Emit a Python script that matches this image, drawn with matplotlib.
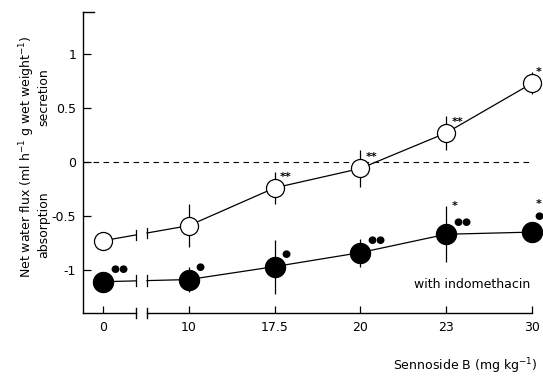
import matplotlib
matplotlib.use("Agg")
import matplotlib.pyplot as plt
import numpy as np

# doses of sennoside B (mg/kg), equally spaced on the axis
doses = ['0', '10', '17.5', '20', '23', '30']
control = [-0.73, -0.59, -0.24, -0.06, 0.27, 0.73]
control_err = [0.0, 0.20, 0.15, 0.17, 0.16, 0.10]
indo = [-1.11, -1.09, -0.97, -0.84, -0.67, -0.65]
indo_err = [0.0, 0.12, 0.25, 0.13, 0.26, 0.09]
# significance marks next to each point
control_marks = ['', '', '**', '**', '**', '*']
indo_stars = ['', '', '', '', '*', '*']
indo_dots = ['●●', '●', '●', '●●', '●●', '●']
yticks = [-1, -0.5, 0, 0.5, 1]
yticklabels = ['-1', '-0.5', '0', '0.5', '1']

plt.rcParams['font.family'] = ['DejaVu Sans']
fig = plt.figure(figsize=(5.43, 3.78), dpi=100)
ax = fig.add_axes([0.1529, 0.172, 0.8269, 0.796])
x = np.arange(len(doses))
ax.set_xlim(-0.233, 5.0)
ax.set_ylim(-1.40, 1.39)

brk_l, brk_r = 0.385, 0.513   # axis break between 0 and 10
lw = 0.9


def draw_series(vals, errs, face, ms):
    y0 = np.interp(brk_l, [x[0], x[1]], [vals[0], vals[1]])
    y1 = np.interp(brk_r, [x[0], x[1]], [vals[0], vals[1]])
    ax.plot([x[0], brk_l], [vals[0], y0], color='k', lw=lw, zorder=2)
    ax.plot([brk_r, x[1]], [y1, vals[1]], color='k', lw=lw, zorder=2)
    for bx, by in ((brk_l, y0), (brk_r, y1)):
        ax.plot([bx, bx], [by - 0.05, by + 0.05], color='k', lw=lw, zorder=2)
    ax.plot(x[1:], vals[1:], color='k', lw=lw, zorder=2)
    ax.errorbar(x, vals, yerr=errs, fmt='none', ecolor='k', elinewidth=lw,
                capsize=0, zorder=2, clip_on=False)
    ax.plot(x, vals, 'o', ms=ms, mfc=face, mec='k', mew=0.9, ls='none',
            zorder=3, clip_on=False)


draw_series(control, control_err, 'white', 13)
draw_series(indo, indo_err, 'black', 14.5)

last = len(doses) - 1
for i in range(len(doses)):
    dx = 3 if i == last else 4
    if control_marks[i]:
        ax.annotate(control_marks[i], (x[i], control[i]), xytext=(dx, 8),
                    textcoords='offset points', fontsize=8, weight='bold',
                    ha='left', va='center', annotation_clip=False)
    if indo_stars[i]:
        ax.annotate(indo_stars[i], (x[i], indo[i]), xytext=(dx, 20),
                    textcoords='offset points', fontsize=8, weight='bold',
                    ha='left', va='center', annotation_clip=False)
    dot_off = (1.5, 11.5) if i == last else (dx + 1, 9)
    ax.annotate(indo_dots[i], (x[i], indo[i]), xytext=dot_off,
                textcoords='offset points', fontsize=7.5,
                ha='left', va='center', annotation_clip=False)

ax.axhline(0, color='k', lw=0.8, ls=(0, (5, 4)), zorder=1)

# spines and axis break on the bottom axis
ax.spines['top'].set_visible(False)
ax.spines['right'].set_visible(False)
ax.spines['bottom'].set_visible(False)
ax.spines['left'].set_linewidth(1.0)
ybot = -1.40
ax.plot([-0.233, brk_l], [ybot, ybot], color='k', lw=1.0, clip_on=False)
ax.plot([brk_r, 5.0], [ybot, ybot], color='k', lw=1.0, clip_on=False)
for bx in (brk_l, brk_r):
    ax.plot([bx, bx], [ybot - 0.05, ybot + 0.05], color='k', lw=1.0,
            clip_on=False)
ax.plot([-0.233, -0.1], [1.39, 1.39], color='k', lw=1.0, clip_on=False)

ax.set_xticks(x)
ax.set_xticklabels(doses, fontsize=9)
ax.set_yticks(yticks)
ax.set_yticklabels(yticklabels, fontsize=9)
ax.tick_params(axis='x', direction='in', length=5, width=0.9, pad=6)
ax.tick_params(axis='y', direction='in', length=6, width=0.9, pad=5)

fig.text(0.05, 0.585, 'Net water flux (ml h$^{-1}$ g wet weight$^{-1}$)',
         rotation=90, ha='center', va='center', fontsize=9)
fig.text(0.08, 0.743, 'secretion', rotation=90, ha='center', va='center',
         fontsize=9)
fig.text(0.08, 0.405, 'absorption', rotation=90, ha='center', va='center',
         fontsize=9)
ax.text(4.98, -1.14, 'with indomethacin', ha='right', va='center', fontsize=9)
fig.text(0.99, 0.032, 'Sennoside B (mg kg$^{-1}$)', ha='right',
         va='center', fontsize=9)

fig.savefig('out.png', dpi=100)
